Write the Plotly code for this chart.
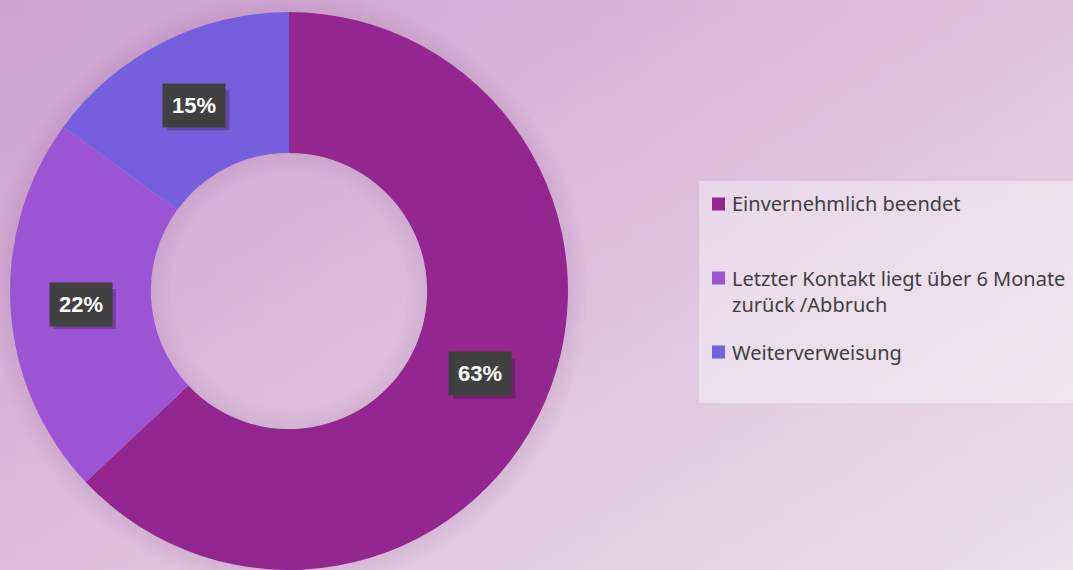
import base64, math, struct, zlib
import plotly.graph_objects as go

# ---- data ----
categories = ["Einvernehmlich beendet",
              "Letzter Kontakt liegt über 6 Monate<br>zurück /Abbruch",
              "Weiterverweisung"]
shares = [63, 22, 15]
colors = ["#93268f", "#9b54d3", "#765fdc"]

W, H = 1073, 570

# ---- gradient background image ----
def gradient_png(w, h, c0, c1):
    rows = []
    for j in range(h):
        row = bytearray([0])
        for i in range(w):
            t = (i / (w - 1) * 0.55 + j / (h - 1) * 0.45)
            row += bytes(int(round(c0[k] + (c1[k] - c0[k]) * t)) for k in range(3))
        rows.append(bytes(row))
    raw = b"".join(rows)
    def chunk(tag, data):
        c = struct.pack(">I", len(data)) + tag + data
        return c + struct.pack(">I", zlib.crc32(tag + data) & 0xffffffff)
    png = b"\x89PNG\r\n\x1a\n" + chunk(b"IHDR", struct.pack(">IIBBBBB", w, h, 8, 2, 0, 0, 0))
    png += chunk(b"IDAT", zlib.compress(raw, 9)) + chunk(b"IEND", b"")
    return "data:image/png;base64," + base64.b64encode(png).decode()

bg = gradient_png(108, 57, (206, 160, 207), (236, 223, 234))

# ---- geometry of pie domain ----
dom_x = [9 / W, 569 / W]
dom_y = [0.0, 1 - 12 / H]
cx = (dom_x[0] + dom_x[1]) / 2 * W
cy_top = (1 - (dom_y[0] + dom_y[1]) / 2) * H
r_out = min((dom_x[1] - dom_x[0]) * W, (dom_y[1] - dom_y[0]) * H) / 2
hole = 0.495
r_in = r_out * hole

fig = go.Figure(go.Pie(
    labels=categories,
    values=shares,
    hole=hole,
    sort=False,
    direction="clockwise",
    rotation=0,
    marker=dict(colors=colors, line=dict(width=0)),
    textinfo="none",
    hoverinfo="label+percent",
    domain=dict(x=dom_x, y=dom_y),
    showlegend=False,
))

shapes = []
# soft shadow around ring
for k in range(10):
    r = r_out + 1 + 2 * k
    shapes.append(dict(type="circle", xref="paper", yref="paper", layer="below",
                       x0=(cx - r) / W, x1=(cx + r) / W,
                       y0=1 - (cy_top + r) / H, y1=1 - (cy_top - r) / H,
                       line=dict(color="rgba(90,20,90,%.3f)" % (0.08 * (1 - k / 10)), width=2)))
for k in range(10):
    r = r_in - 1 - 2 * k
    shapes.append(dict(type="circle", xref="paper", yref="paper", layer="below",
                       x0=(cx - r) / W, x1=(cx + r) / W,
                       y0=1 - (cy_top + r) / H, y1=1 - (cy_top - r) / H,
                       line=dict(color="rgba(90,20,90,%.3f)" % (0.07 * (1 - k / 10)), width=2)))
# legend panel
shapes.append(dict(type="rect", xref="paper", yref="paper", layer="below",
                   x0=699 / W, x1=1, y0=1 - 403 / H, y1=1 - 181 / H,
                   fillcolor="rgba(255,255,255,0.38)", line=dict(width=0)))

annotations = []
# percentage label boxes (positioned at slice mid-angle, mid-radius)
total = sum(shares)
cum = 0
r_mid = (r_in + r_out) / 2
for v in shares:
    mid = (cum + v / 2) / total * 2 * math.pi
    cum += v
    px = cx + r_mid * math.sin(mid)
    py = cy_top - r_mid * math.cos(mid)
    # drop shadow of the box
    shapes.append(dict(type="rect", xref="paper", yref="paper", layer="above",
                       x0=(px - 31 + 4) / W, x1=(px + 31 + 4) / W,
                       y0=1 - (py + 20 + 5) / H, y1=1 - (py - 20 + 5) / H,
                       fillcolor="rgba(40,10,40,0.28)", line=dict(width=0)))
    annotations.append(dict(x=px / W, y=1 - py / H, xref="paper", yref="paper",
                            xanchor="center", yanchor="middle",
                            text="<b>%d%%</b>" % round(v / total * 100),
                            showarrow=False, bgcolor="#404040",
                            font=dict(family="Liberation Sans", size=22, color="white"),
                            borderpad=9))

# legend (manual, to match the reference spacing)
leg_y = [203, 291, 352]
mark_y = [204, 278, 352]
for lab, col, ty, my in zip(categories, colors, leg_y, mark_y):
    shapes.append(dict(type="rect", xref="paper", yref="paper", layer="above",
                       x0=712 / W, x1=725 / W, y0=1 - (my + 6.5) / H, y1=1 - (my - 6.5) / H,
                       fillcolor=col, line=dict(width=0)))
    annotations.append(dict(x=730 / W, y=1 - ty / H, xref="paper", yref="paper",
                            xanchor="left", yanchor="middle", align="left",
                            text=lab, showarrow=False,
                            font=dict(family="Noto Sans", size=20, color="#404040")))

fig.update_layout(
    width=W, height=H,
    margin=dict(l=0, r=0, t=0, b=0),
    paper_bgcolor="#dcc3dc",
    plot_bgcolor="rgba(0,0,0,0)",
    images=[dict(source=bg, xref="paper", yref="paper", x=0, y=1, sizex=1, sizey=1,
                 sizing="stretch", layer="below", xanchor="left", yanchor="top")],
    shapes=shapes,
    annotations=annotations,
    showlegend=False,
)

fig.write_html("out.html", config={"displayModeBar": False},
               post_script="document.body.style.margin='0';")
